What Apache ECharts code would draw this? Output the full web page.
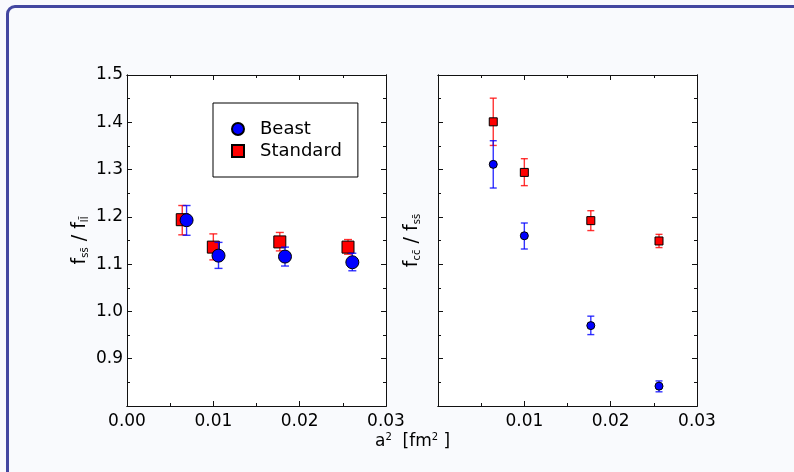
<!DOCTYPE html>
<html>
<head>
<meta charset="utf-8">
<script src="https://cdn.jsdelivr.net/npm/echarts@6/dist/echarts.min.js"></script>
<style>
  html, body { margin: 0; padding: 0; background: #f9fafd; }
  #frame { position: absolute; left: 6px; top: 5px; width: 820px; height: 500px;
           border: 3px solid #4347a0; border-radius: 9px; box-sizing: border-box; }
  #chart { position: absolute; left: 0; top: 0; width: 794px; height: 472px; }
</style>
</head>
<body>
<div id="frame"></div>
<div id="chart"></div>
<script>
// ---- data ----
const xTickLabels = ['0.00', '0.01', '0.02', '0.03'];
const yTickLabels = ['0.9', '1.0', '1.1', '1.2', '1.3', '1.4', '1.5'];

// left panel: f_ss / f_ll
const beastX_L  = [0.0069, 0.0106, 0.0183, 0.0261];
const beastY_L  = [1.193, 1.118, 1.116, 1.104];
const beastLo_L = [1.161, 1.091, 1.096, 1.086];
const beastHi_L = [1.224, 1.146, 1.136, 1.123];
const stdX_L    = [0.0064, 0.0100, 0.0177, 0.0256];
const stdY_L    = [1.194, 1.136, 1.147, 1.136];
const stdLo_L   = [1.162, 1.109, 1.128, 1.121];
const stdHi_L   = [1.224, 1.164, 1.167, 1.152];

// right panel: f_cc / f_ss
const beastX_R  = [0.0064, 0.0100, 0.0177, 0.0256];
const beastY_R  = [1.311, 1.160, 0.970, 0.842];
const beastLo_R = [1.261, 1.132, 0.951, 0.830];
const beastHi_R = [1.361, 1.187, 0.990, 0.853];
const stdX_R    = [0.0064, 0.0100, 0.0177, 0.0256];
const stdY_R    = [1.401, 1.294, 1.192, 1.149];
const stdLo_R   = [1.351, 1.266, 1.171, 1.135];
const stdHi_R   = [1.451, 1.323, 1.213, 1.163];

// ---- build ----
const FONT = 'DejaVu Sans';
const zip2 = (a, b) => a.map((v, i) => [v, b[i]]);
const zip3 = (a, b, c) => a.map((v, i) => [v, b[i], c[i]]);

function errRender(capHalf, color) {
  return function (params, api) {
    const x = api.value(0), lo = api.value(1), hi = api.value(2);
    const pLo = api.coord([x, lo]), pHi = api.coord([x, hi]);
    const st = { stroke: color, lineWidth: 1.4, opacity: 0.8 };
    return {
      type: 'group',
      children: [
        { type: 'line', shape: { x1: pLo[0], y1: pLo[1], x2: pHi[0], y2: pHi[1] }, style: st },
        { type: 'line', shape: { x1: pLo[0] - capHalf, y1: pLo[1], x2: pLo[0] + capHalf, y2: pLo[1] }, style: st },
        { type: 'line', shape: { x1: pHi[0] - capHalf, y1: pHi[1], x2: pHi[0] + capHalf, y2: pHi[1] }, style: st }
      ]
    };
  };
}

const axisLineStyle = { onZero: false, lineStyle: { color: '#111', width: 1 } };
// major: interval with long inside ticks; minor: half interval, short inside ticks
function xAx(grid, pos, major, showLabels, showMin) {
  return {
    type: 'value', gridIndex: grid, position: pos, min: 0, max: 0.03,
    interval: major ? 0.01 : 0.005,
    axisLine: axisLineStyle,
    axisTick: { inside: true, length: major ? 5 : 3, lineStyle: { color: '#111' } },
    splitLine: { show: false },
    axisLabel: {
      show: showLabels, showMinLabel: showMin, showMaxLabel: true,
      color: '#000', fontFamily: FONT, fontSize: 17, margin: 7,
      formatter: v => xTickLabels[Math.round(v / 0.01)]
    }
  };
}
function yAx(grid, pos, major, showLabels) {
  return {
    type: 'value', gridIndex: grid, position: pos, min: 0.8, max: 1.5,
    interval: major ? 0.1 : 0.05,
    axisLine: axisLineStyle,
    axisTick: { inside: true, length: major ? 5 : 3, lineStyle: { color: '#111' } },
    splitLine: { show: false },
    axisLabel: {
      show: showLabels, showMinLabel: false,
      color: '#000', fontFamily: FONT, fontSize: 17, margin: 4,
      formatter: v => { const i = Math.round((v - 0.9) / 0.1); return yTickLabels[i] || ''; }
    }
  };
}

const nameRich = {
  f: { fontFamily: FONT, fontSize: 19, color: '#000' },
  sub: { fontFamily: FONT, fontSize: 10, color: '#000', padding: [10, 0, 0, 0] }
};

const yLeft = yAx(0, 'left', true, true);
yLeft.name = '{f|f}{sub|ss\u0304}{f| / f}{sub|ll\u0304}';
yLeft.nameLocation = 'middle';
yLeft.nameGap = 37;
yLeft.nameTextStyle = { rich: nameRich };

const yRight = yAx(1, 'left', true, false);
yRight.name = '{f|f}{sub|cc\u0304}{f| / f}{sub|ss\u0304}';
yRight.nameLocation = 'middle';
yRight.nameGap = 16;
yRight.nameTextStyle = { rich: nameRich };

const option = {
  backgroundColor: 'transparent',
  animation: false,
  grid: [
    { left: 127, top: 75, width: 259, height: 331, show: true, backgroundColor: '#ffffff', borderWidth: 0 },
    { left: 438, top: 75, width: 259, height: 331, show: true, backgroundColor: '#ffffff', borderWidth: 0 }
  ],
  xAxis: [
    xAx(0, 'bottom', true, true, true),
    xAx(0, 'bottom', false, false, true),
    xAx(0, 'top', true, false, true),
    xAx(0, 'top', false, false, true),
    xAx(1, 'bottom', true, true, false),
    xAx(1, 'bottom', false, false, false),
    xAx(1, 'top', true, false, false),
    xAx(1, 'top', false, false, false)
  ],
  yAxis: [
    yLeft,
    yAx(0, 'left', false, false),
    yAx(0, 'right', true, false),
    yAx(0, 'right', false, false),
    yRight,
    yAx(1, 'left', false, false),
    yAx(1, 'right', true, false),
    yAx(1, 'right', false, false)
  ],
  legend: {
    left: 213, top: 103, orient: 'vertical',
    data: ['Beast', 'Standard'],
    itemWidth: 12, itemHeight: 12, itemGap: 4,
    padding: [17, 16, 17, 18],
    borderColor: '#000', borderWidth: 1, backgroundColor: '#ffffff',
    textStyle: { fontFamily: FONT, fontSize: 18, color: '#000', padding: [0, 0, 0, 11] }
  },
  graphic: [{
    type: 'text', left: 375, top: 432,
    style: {
      text: '{t|a}{s|2}{t|  [fm}{s|2}{t| ]}',
      rich: {
        t: { fontFamily: FONT, fontSize: 17, color: '#000' },
        s: { fontFamily: FONT, fontSize: 10, color: '#000', padding: [0, 0, 9, 0] }
      }
    }
  }],
  series: [
    // left panel
    { type: 'custom', xAxisIndex: 0, yAxisIndex: 0, renderItem: errRender(4, '#ff0000'),
      data: zip3(stdX_L, stdLo_L, stdHi_L), encode: { x: 0, y: [1, 2] }, z: 1, silent: true },
    { name: 'Standard', type: 'scatter', xAxisIndex: 0, yAxisIndex: 0, symbol: 'rect', symbolSize: 12,
      itemStyle: { color: '#ff0000', borderColor: '#000', borderWidth: 1, opacity: 1 }, data: zip2(stdX_L, stdY_L), z: 2 },
    { type: 'custom', xAxisIndex: 0, yAxisIndex: 0, renderItem: errRender(4, '#0000ff'),
      data: zip3(beastX_L, beastLo_L, beastHi_L), encode: { x: 0, y: [1, 2] }, z: 3, silent: true },
    { name: 'Beast', type: 'scatter', xAxisIndex: 0, yAxisIndex: 0, symbol: 'circle', symbolSize: 13,
      itemStyle: { color: '#0000ff', borderColor: '#000', borderWidth: 1, opacity: 1 }, data: zip2(beastX_L, beastY_L), z: 4 },
    // right panel
    { type: 'custom', xAxisIndex: 4, yAxisIndex: 4, renderItem: errRender(3.5, '#ff0000'),
      data: zip3(stdX_R, stdLo_R, stdHi_R), encode: { x: 0, y: [1, 2] }, z: 1, silent: true },
    { name: 'Standard', type: 'scatter', xAxisIndex: 4, yAxisIndex: 4, symbol: 'rect', symbolSize: 8,
      itemStyle: { color: '#ff0000', borderColor: '#000', borderWidth: 1, opacity: 1 }, data: zip2(stdX_R, stdY_R), z: 2 },
    { type: 'custom', xAxisIndex: 4, yAxisIndex: 4, renderItem: errRender(3.5, '#0000ff'),
      data: zip3(beastX_R, beastLo_R, beastHi_R), encode: { x: 0, y: [1, 2] }, z: 3, silent: true },
    { name: 'Beast', type: 'scatter', xAxisIndex: 4, yAxisIndex: 4, symbol: 'circle', symbolSize: 8,
      itemStyle: { color: '#0000ff', borderColor: '#000', borderWidth: 1, opacity: 1 }, data: zip2(beastX_R, beastY_R), z: 4 }
  ]
};

const chart = echarts.init(document.getElementById('chart'), null, { renderer: 'canvas' });
chart.setOption(option);
</script>
</body>
</html>
